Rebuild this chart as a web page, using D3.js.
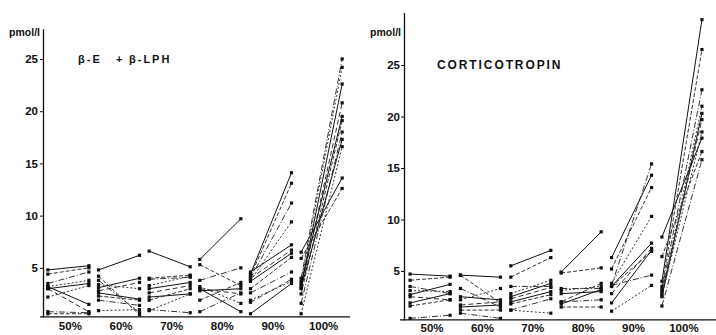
<!DOCTYPE html>
<html><head><meta charset="utf-8">
<script src="https://cdnjs.cloudflare.com/ajax/libs/d3/7.8.5/d3.min.js"></script>
<style>
html,body{margin:0;padding:0;background:#fff;}
svg{display:block;font-family:"Liberation Sans",Arial,Helvetica,sans-serif;}
</style></head>
<body>
<script>
// ---------- data ----------
const categories = ["50%", "60%", "70%", "80%", "90%", "100%"];
const yTicks = [5, 10, 15, 20, 25];
const unitLabel = "pmol/l";
const leftTitleParts = ["β-E", "+", "β-LPH"];
const rightTitle = "CORTICOTROPIN";

// β-E + β-LPH : value at start (before) and end (after) of each exercise step, one entry per subject
const betaBefore = [
  [4.8, 4.4, 3.5, 3.2, 3.0, 3.0, 3.2, 0.6, 0.8, 2.2],
  [4.8, 4.2, 3.8, 3.4, 3.1, 2.8, 2.6, 2.3, 1.9, 0.9],
  [6.6, 4.0, 3.9, 3.3, 3.0, 2.6, 2.2, 1.9, 1.0, 0.9],
  [5.8, 5.3, 3.8, 3.2, 3.0, 3.0, 2.8, 1.9, 0.8],
  [4.4, 4.2, 4.0, 3.8, 4.6, 4.0, 3.7, 3.0, 2.6, 1.9, 0.6, 1.7],
  [6.5, 5.9, 4.0, 3.7, 3.3, 3.0, 3.5, 2.5, 1.6, 0.6, 3.1]
];
const betaAfter = [
  [5.2, 5.0, 4.6, 3.8, 3.5, 0.8, 1.5, 0.6, 0.7, 3.3],
  [6.2, 0.5, 0.7, 3.0, 4.0, 3.6, 2.0, 1.9, 1.4, 1.0],
  [5.1, 4.3, 4.1, 4.2, 3.6, 3.3, 2.5, 3.0, 0.7, 2.5],
  [9.7, 3.3, 5.0, 1.6, 0.8, 2.5, 3.0, 3.6, 2.6],
  [14.1, 13.1, 11.2, 9.4, 7.2, 6.7, 6.4, 6.0, 4.6, 3.7, 3.5, 3.9],
  [13.6, 12.6, 25.0, 24.2, 22.6, 20.8, 19.5, 19.1, 18.0, 16.6, 17.3]
];

// Corticotropin
const acthBefore = [
  [4.7, 4.1, 3.5, 3.1, 2.7, 2.5, 1.9, 1.6, 0.4],
  [4.6, 4.6, 3.3, 2.2, 2.5, 1.7, 1.5, 1.2, 0.9],
  [5.5, 4.4, 3.5, 2.8, 2.5, 2.3, 2.0, 1.8, 1.2, 1.2],
  [4.9, 4.8, 3.3, 3.1, 2.8, 2.0, 1.8, 1.5, 2.0],
  [6.3, 5.2, 3.6, 3.8, 3.5, 2.8, 1.9, 3.5, 3.6, 1.1],
  [4.0, 3.5, 3.2, 2.8, 2.5, 3.0, 8.3, 6.4, 1.6, 2.6]
];
const acthAfter = [
  [4.5, 4.4, 2.8, 3.0, 3.7, 2.2, 2.8, 2.2, 0.7],
  [4.4, 1.9, 1.5, 3.3, 2.2, 2.0, 1.7, 1.2, 0.4],
  [7.0, 6.3, 3.5, 4.1, 3.8, 3.4, 3.0, 2.7, 2.3, 0.9],
  [8.8, 5.3, 3.3, 3.5, 3.0, 3.8, 3.2, 1.5, 2.2],
  [14.3, 13.1, 15.4, 10.3, 7.7, 7.2, 7.0, 6.9, 4.6, 3.6],
  [29.4, 26.5, 22.6, 21.0, 20.3, 19.7, 17.9, 16.6, 15.8, 18.5]
];

// ---------- drawing ----------
const W = 716, H = 335;
const svg = d3.select("body").append("svg").attr("width", W).attr("height", H);

const dashes = [null, "4,2", "6,2,1,2", "2,2", null, "5,3"];

function panel(cfg) {
  const g = svg.append("g");
  const x = d3.scaleBand().domain(categories).range(cfg.xRange)
    .paddingInner(cfg.padIn).paddingOuter(cfg.padOut);
  const y = d3.scaleLinear().domain(cfg.yDomain).range(cfg.yRange);

  // lines
  categories.forEach((c, gi) => {
    const b = cfg.before[gi], a = cfg.after[gi];
    const x0 = x(c), x1 = x(c) + x.bandwidth();
    const grp = g.append("g");
    grp.selectAll("line.pair").data(b.map((v, i) => ({ b: v, a: a[i], i })))
      .join("line").attr("class", "pair")
      .attr("x1", x0).attr("x2", x1)
      .attr("y1", d => y(d.b)).attr("y2", d => y(d.a))
      .attr("stroke", d => dashes[d.i % dashes.length] ? "#333" : "#111")
      .attr("stroke-width", 1)
      .attr("stroke-dasharray", d => dashes[d.i % dashes.length]);
    grp.selectAll("rect.b").data(b).join("rect").attr("class", "b")
      .attr("x", x0 - 1.6).attr("y", d => y(d) - 1.6).attr("width", 3.2).attr("height", 3.2).attr("fill", "#111");
    grp.selectAll("rect.a").data(a).join("rect").attr("class", "a")
      .attr("x", x1 - 1.6).attr("y", d => y(d) - 1.6).attr("width", 3.2).attr("height", 3.2).attr("fill", "#111");
  });

  // y axis
  const ya = g.append("g").attr("transform", `translate(${cfg.yAxisX},0)`)
    .call(d3.axisLeft(y).tickValues(yTicks).tickSize(3).tickSizeOuter(0).tickPadding(cfg.tickPad).tickFormat(d3.format("d")));
  ya.select(".domain").attr("stroke", "#111").attr("stroke-width", 1.3);
  ya.selectAll(".tick line").attr("stroke", "#111");
  ya.selectAll("text").attr("font-size", 11.5).attr("font-weight", "bold")
    .attr("font-family", "Liberation Sans, Arial, sans-serif").attr("fill", "#111");

  // x axis
  const baseY = y(cfg.yDomain[0]);
  const xa = g.append("g").attr("transform", `translate(0,${baseY})`)
    .call(d3.axisBottom(x).tickSize(0).tickPadding(cfg.xLabPad));
  xa.select(".domain").remove();
  xa.selectAll("text").attr("font-size", 11.5).attr("font-weight", "bold")
    .attr("font-family", "Liberation Sans, Arial, sans-serif").attr("fill", "#111")
    .attr("transform", "translate(2,0)");
  g.append("line").attr("x1", cfg.xLine[0]).attr("x2", cfg.xLine[1])
    .attr("y1", baseY).attr("y2", baseY).attr("stroke", "#111").attr("stroke-width", 1.3);

  // unit label
  g.append("text").attr("x", cfg.yAxisX - 3).attr("y", 36).attr("text-anchor", "end")
    .attr("font-size", 10.5).attr("font-weight", "bold").attr("fill", "#111").text(unitLabel);
  return g;
}

const gl = panel({
  xRange: [40, 350], padIn: 0.19, padOut: 0.155,
  yDomain: [0.3, 27.9], yRange: [316.9, 28.7],
  yAxisX: 43, tickPad: 2, xLabPad: 5, xLine: [40, 350],
  before: betaBefore, after: betaAfter
});
const gr = panel({
  xRange: [400, 712], padIn: 0.206, padOut: 0.2,
  yDomain: [0.25, 30.1], yRange: [319.9, 12.5],
  yAxisX: 404, tickPad: 1, xLabPad: 4, xLine: [400, 716],
  before: acthBefore, after: acthAfter
});

// titles
const tPos = [78, 116, 129];
leftTitleParts.forEach((t, i) => {
  gl.append("text").attr("x", tPos[i]).attr("y", 63).attr("font-size", 11)
    .attr("font-weight", "bold").attr("letter-spacing", 2).attr("fill", "#111").text(t);
});
gr.append("text").attr("x", 437).attr("y", 69).attr("font-size", 12)
  .attr("font-weight", "bold").attr("letter-spacing", 1.9).attr("fill", "#111").text(rightTitle);
</script>
</body></html>
